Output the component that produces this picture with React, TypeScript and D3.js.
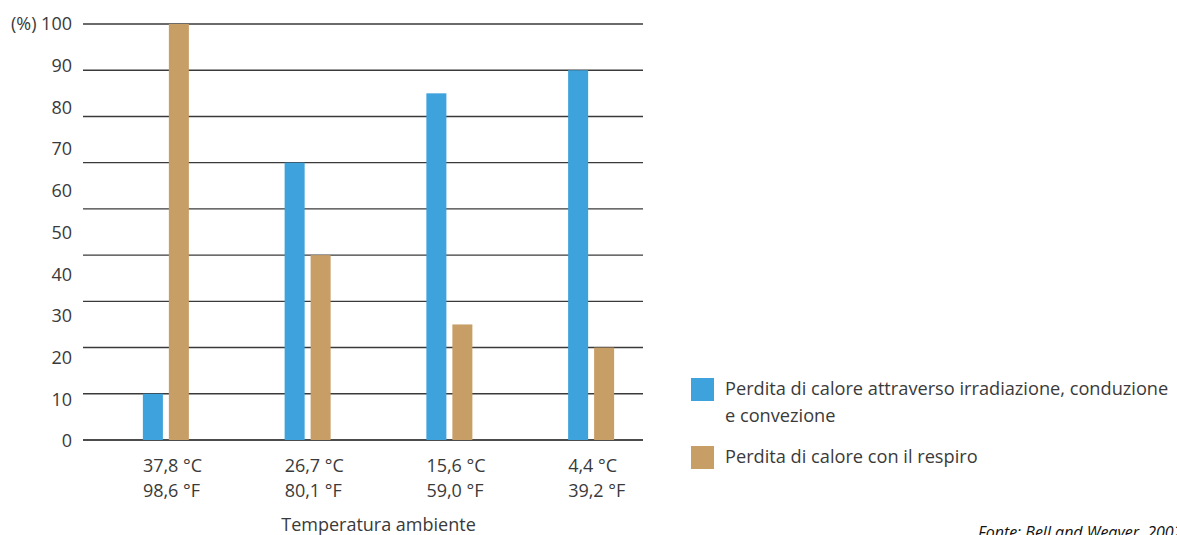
import React from "react";
import * as d3 from "d3";

const categoriesC = ["37,8 °C", "26,7 °C", "15,6 °C", "4,4 °C"];
const categoriesF = ["98,6 °F", "80,1 °F", "59,0 °F", "39,2 °F"];
const seriesKeys = ["irradiazione", "respiro"];
const seriesLabels = [
  ["Perdita di calore attraverso irradiazione, conduzione", "e convezione"],
  ["Perdita di calore con il respiro"],
];
const irradiazioneValues = [10, 60, 75, 80];
const respiroValues = [90, 40, 25, 20];
const gridValues = [0, 10, 20, 30, 40, 50, 60, 70, 80, 90];
const tickLabels = [0, 10, 20, 30, 40, 50, 60, 70, 80, 90, 100];
const colors = ["#3ea2dc", "#c89e67"];

const W = 1177;
const H = 535;
const FONT = "'Open Sans', sans-serif";
const TEXT = "#3a3a3a";

export default function App() {
  const y = d3.scaleLinear().domain([0, 90]).range([440, 24]);
  const yLabel = d3.scaleLinear().domain([0, 100]).range([441, 24]);
  const x0 = d3.scaleBand<string>().domain(categoriesC).range([95, 662]).paddingInner(0);
  const x1 = d3.scaleBand<string>().domain(seriesKeys).range([0, 46]).paddingInner(0.23);
  const gridX0 = 83;
  const gridX1 = 643;
  const seriesValues = [irradiazioneValues, respiroValues];

  return (
    <svg
      width={W}
      height={H}
      style={{ position: "absolute", left: 0, top: 0, background: "#fff" }}
      fontFamily={FONT}
    >
      {gridValues.map((v) => (
        <line
          key={v}
          x1={gridX0}
          x2={gridX1}
          y1={y(v)}
          y2={y(v)}
          stroke={v === 0 ? "#111" : "#3a3a3a"}
          strokeWidth={1.4}
        />
      ))}
      {tickLabels.map((v) => (
        <text
          key={v}
          x={72}
          y={yLabel(v)}
          dy="0.35em"
          textAnchor="end"
          fontSize={18}
          fill={TEXT}
        >
          {v === 100 ? "(%) 100" : v}
        </text>
      ))}
      {categoriesC.map((c, i) => {
        const gx = (x0(c) as number) + x0.bandwidth() / 2 - 23;
        return (
          <g key={c} transform={`translate(${gx},0)`}>
            {seriesKeys.map((k, j) => (
              <rect
                key={k}
                x={x1(k) as number}
                y={y(seriesValues[j][i])}
                width={x1.bandwidth()}
                height={y(0) - y(seriesValues[j][i])}
                fill={colors[j]}
              />
            ))}
            <text x={0} y={472} fontSize={18} fill={TEXT}>
              {c}
            </text>
            <text x={0} y={497} fontSize={18} fill={TEXT}>
              {categoriesF[i]}
            </text>
          </g>
        );
      })}
      <text
        x={(95 + 662) / 2}
        y={531}
        textAnchor="middle"
        fontSize={18}
        fill={TEXT}
      >
        Temperatura ambiente
      </text>
      {seriesLabels.map((lines, j) => {
        const top = j === 0 ? 378 : 446;
        return (
          <g key={j}>
            <rect x={691} y={top} width={23} height={23} fill={colors[j]} />
            {lines.map((l, li) => (
              <text
                key={li}
                x={725}
                y={top + 17 + li * 26.5}
                fontSize={18.2}
                fill={TEXT}
              >
                {l}
              </text>
            ))}
          </g>
        );
      })}
      <text
        x={978}
        y={538}
        fontSize={16}
        fontStyle="italic"
        fontWeight={500}
        fill="#111"
      >
        Fonte: Bell and Weaver, 2002
      </text>
    </svg>
  );
}
